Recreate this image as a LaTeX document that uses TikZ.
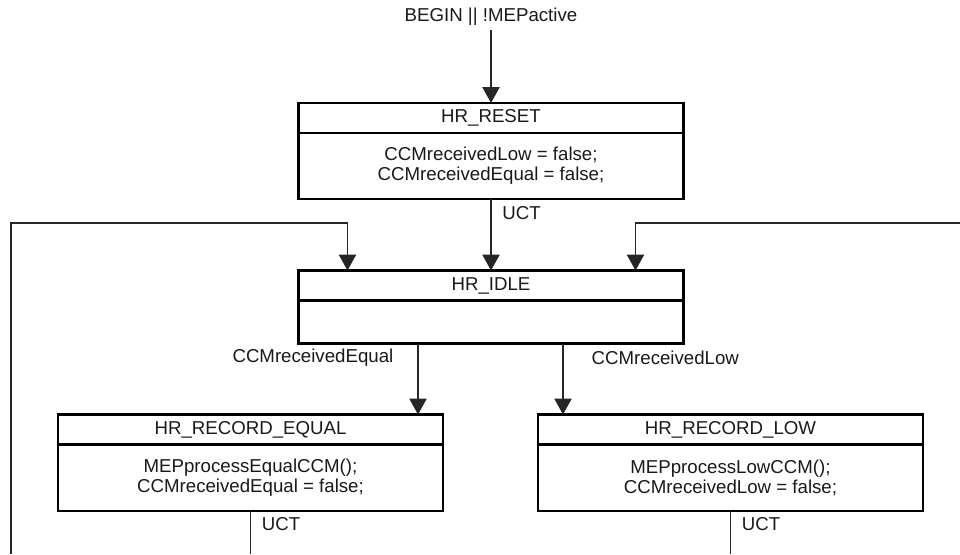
\documentclass[tikz,border=0pt]{standalone}
\usepackage{fontspec}
\setmainfont{Liberation Sans}
\usetikzlibrary{arrows.meta,positioning}

\begin{document}
\begin{tikzpicture}[x=0.75pt,y=-0.75pt,>={Triangle[length=12pt,width=13pt]},
  every node/.style={font=\fontsize{14}{15.2}\selectfont,text=black!90},
  statehead/.style={draw,line width=1.6pt,outer sep=0pt,inner sep=0pt,minimum width=288.75pt,minimum height=22.5pt},
  statebody/.style={draw,line width=1.6pt,outer sep=0pt,inner sep=0pt,minimum width=288.75pt,align=center},
  trans/.style={line width=1pt,draw=black!85},
  cond/.style={inner sep=1pt}]
\useasboundingbox (0,0) rectangle (960,554);
% states
\node[statehead] (reset) at (491,118){HR\_RESET};
\node[statebody,minimum height=49.5pt,below=0pt of reset] (reset-body){CCMreceivedLow = false;\\CCMreceivedEqual = false;};
\node[statehead] (idle) at (491,285.5){HR\_IDLE};
\node[statebody,minimum height=32.25pt,below=0pt of idle] (idle-body){};
\node[statehead] (receq) at (250.5,429.5){HR\_RECORD\_EQUAL};
\node[statebody,minimum height=50pt,below=0pt of receq] (receq-body){MEPprocessEqualCCM();\\CCMreceivedEqual = false;};
\node[statehead] (reclow) at (730.5,429.5){HR\_RECORD\_LOW};
\node[statebody,minimum height=50pt,below=0pt of reclow] (reclow-body){MEPprocessLowCCM();\\CCMreceivedLow = false;};
% transitions
\node (begin) at (491,17){BEGIN || !MEPactive};
\draw[trans,->] (begin)--(reset);
\draw[trans,->] (reset-body)--node[cond,pos=.2,right=7pt]{UCT}(idle);
\draw[trans,->] ([xshift=-18.75pt]receq.north east |- idle-body.south)--node[cond,pos=.2,left=17pt]{CCMreceivedEqual}([xshift=-18.75pt]receq.north east);
\draw[trans,->] ([xshift=18.75pt]reclow.north west |- idle-body.south)--node[cond,pos=.2,right=20pt]{CCMreceivedLow}([xshift=18.75pt]reclow.north west);
\coordinate (eqout) at (250.5,554);\coordinate (lowout) at (730.5,554);
\draw[trans] (receq-body)--node[cond,pos=.3,right=7pt]{UCT}(eqout);
\draw[trans] (reclow-body)--node[cond,pos=.3,right=7pt]{UCT}(lowout);
\coordinate (loopL) at (11,554);\coordinate (loopR) at (960,223);
\draw[trans,->] (loopL)--++(0,-331)-|([xshift=36.75pt]idle.north west);
\draw[trans,->] (loopR)-|([xshift=-36pt]idle.north east);
\end{tikzpicture}
\end{document}
